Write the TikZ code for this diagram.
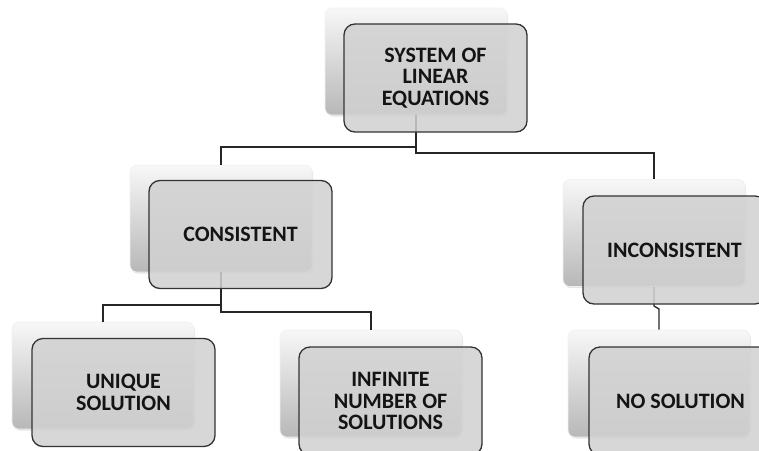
\documentclass[tikz,border=0pt]{standalone}
\usepackage{fontspec}
\setmainfont{Carlito}
\usetikzlibrary{shadows}
\tikzset{
  backbox/.style={rectangle, rounded corners=7pt, minimum width=182pt, minimum height=107pt, inner sep=0pt,
    top color=white!97!black, middle color=white!90!black, bottom color=black!28, draw=black!6, line width=0.6pt,
    drop shadow={opacity=0.2, shadow xshift=1pt, shadow yshift=-1.5pt}},
  frontbox/.style={rectangle, rounded corners=11pt, minimum width=183pt, minimum height=108pt, inner sep=0pt,
    fill=black!18, fill opacity=0.86, text opacity=1, draw=black!80, draw opacity=1, line width=1.3pt,
    align=center, font=\fontsize{22}{21.7}\selectfont\bfseries, text=black!92},
  conn/.style={draw=black!85, line width=1.3pt}
}
\begin{document}
\begin{tikzpicture}[x=1pt, y=-1pt]
\useasboundingbox (0,0) rectangle (759,450);
\clip (0,0) rectangle (759,450);
% back boxes
\node[backbox] (topb) at (416,61.5) {};
\node[backbox] (consb) at (221,218.5) {};
\node[backbox] (inconsb) at (654,233) {};
\node[backbox] (uniqb) at (103,375.5) {};
\node[backbox] (infb) at (371,383.5) {};
\node[backbox] (nosolb) at (659,383.5) {};
% connectors
\draw[conn] (topb.south) -- (topb.south |- 0,147) -| (consb.north);
\draw[conn] (topb.south) -- (topb.south |- 0,153) -| (inconsb.north);
\draw[conn] (consb.south) -- (consb.south |- 0,305) -| (uniqb.north);
\draw[conn] (consb.south) -- (consb.south |- 0,312) -| (infb.north);
\coordinate (jog) at (654,306);
\draw[conn] (inconsb.south) -- (jog) -- (nosolb.north |- 0,309) -- (nosolb.north);
% front boxes
\node[frontbox] (topf) at (435.5,78) {SYSTEM OF\\LINEAR\\EQUATIONS};
\node[frontbox] (consf) at (240.5,234.5) {CONSISTENT};
\node[frontbox] (inconsf) at (674.5,250) {INCONSISTENT};
\node[frontbox] (uniqf) at (123.5,392.5) {UNIQUE\\SOLUTION};
\node[frontbox] (inff) at (390.5,401) {INFINITE\\NUMBER OF\\SOLUTIONS};
\node[frontbox] (nosolf) at (680.5,401) {NO SOLUTION};
\end{tikzpicture}
\end{document}
